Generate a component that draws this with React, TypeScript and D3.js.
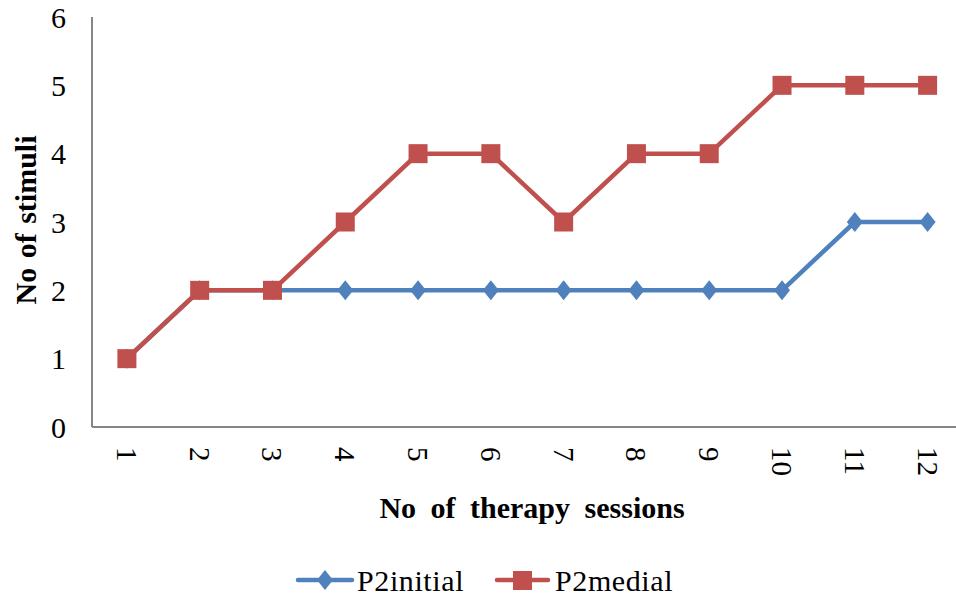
import React from "react";
import * as d3 from "d3";

const sessions = ["1", "2", "3", "4", "5", "6", "7", "8", "9", "10", "11", "12"];
const p2initial = [1, 2, 2, 2, 2, 2, 2, 2, 2, 2, 3, 3];
const p2medial = [1, 2, 2, 3, 4, 4, 3, 4, 4, 5, 5, 5];
const yTicks = [0, 1, 2, 3, 4, 5, 6];

const W = 956, H = 602;
const left = 92, right = 964, top = 17, bottom = 427;
const BLUE = "#4F81BD", RED = "#C0504D", AXIS = "#868686";
const FONT = "'Liberation Serif', 'Times New Roman', serif";

export default function App() {
  const x = d3.scaleBand<string>().domain(sessions).range([left - 1.5, right]);
  const y = d3.scaleLinear().domain([0, 6]).range([bottom, top]);
  const cx = (s: string) => (x(s) as number) + x.bandwidth() / 2;
  const line = d3.line<number>().x((_, i) => cx(sessions[i])).y((d) => y(d));
  const diamond = (px: number, py: number, rx = 8, ry = 10) =>
    `M${px},${py - ry}L${px + rx},${py}L${px},${py + ry}L${px - rx},${py}Z`;

  return (
    <svg width={W} height={H} style={{ position: "absolute", left: 0, top: 0, background: "#fff" }}>
      <line x1={left} x2={left} y1={top} y2={bottom} stroke={AXIS} strokeWidth={2} />
      <line x1={left} x2={W} y1={bottom} y2={bottom} stroke={AXIS} strokeWidth={2} />
      {yTicks.map((t) => (
        <text key={t} x={66} y={y(t)} textAnchor="end" dominantBaseline="central" fontFamily={FONT} fontSize={30} fill="#000">
          {t}
        </text>
      ))}
      {sessions.map((s) => (
        <text key={s} transform={`translate(${cx(s)},447) rotate(90)`} textAnchor="start" dominantBaseline="central" fontFamily={FONT} fontSize={29} fill="#000">
          {s}
        </text>
      ))}
      <text transform={`translate(25,220) rotate(-90)`} textAnchor="middle" dominantBaseline="central" fontFamily={FONT} fontSize={30} fontWeight="bold" wordSpacing={2}>
        No of stimuli
      </text>
      <text x={532} y={507} textAnchor="middle" dominantBaseline="central" fontFamily={FONT} fontSize={30} fontWeight="bold" wordSpacing={7}>
        No of therapy sessions
      </text>

      <path d={line(p2initial) as string} fill="none" stroke={BLUE} strokeWidth={4.5} strokeLinejoin="round" />
      {p2initial.map((v, i) => (
        <path key={i} d={diamond(cx(sessions[i]), y(v))} fill={BLUE} />
      ))}
      <path d={line(p2medial) as string} fill="none" stroke={RED} strokeWidth={4.5} strokeLinejoin="round" />
      {p2medial.map((v, i) => (
        <rect key={i} x={cx(sessions[i]) - 9.5} y={y(v) - 9.5} width={19} height={19} fill={RED} />
      ))}

      <g>
        <line x1={298} x2={352} y1={580} y2={580} stroke={BLUE} strokeWidth={4.5} strokeLinecap="round" />
        <path d={diamond(325, 580)} fill={BLUE} />
        <text x={357} y={580} dominantBaseline="central" fontFamily={FONT} fontSize={30} letterSpacing={0.6}>P2initial</text>
        <line x1={497} x2={548} y1={580} y2={580} stroke={RED} strokeWidth={4.5} strokeLinecap="round" />
        <rect x={513} y={571} width={19} height={19} fill={RED} />
        <text x={555} y={580} dominantBaseline="central" fontFamily={FONT} fontSize={30} letterSpacing={0.6}>P2medial</text>
      </g>
    </svg>
  );
}
